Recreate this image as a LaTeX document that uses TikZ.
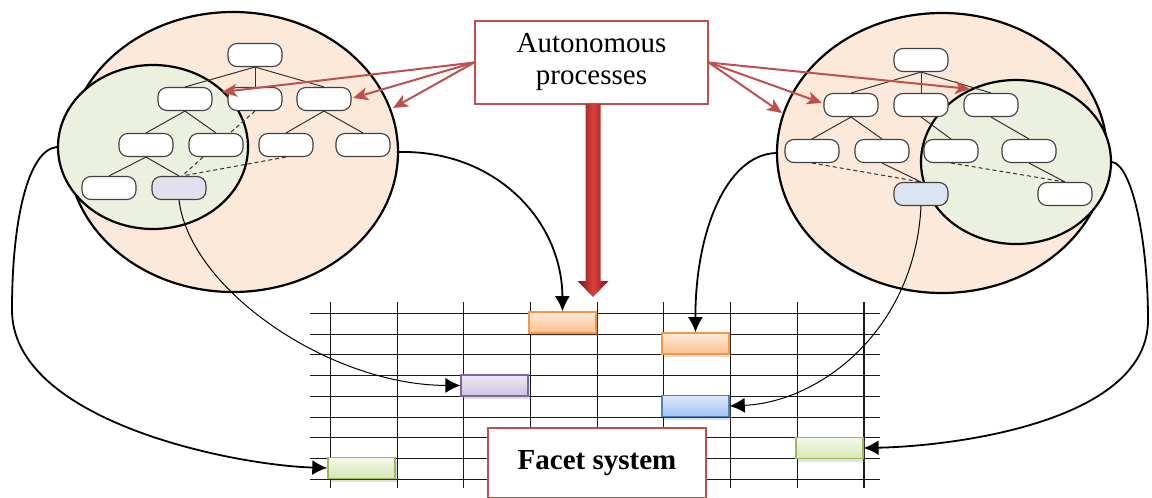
\documentclass[tikz,border=0pt]{standalone}
\usepackage{fontspec}
\setmainfont{Liberation Serif}
\usetikzlibrary{shapes.geometric,arrows.meta,shadows}
\definecolor{redline}{RGB}{192,80,77}
\definecolor{peach}{RGB}{253,233,217}
\definecolor{greenf}{RGB}{235,241,222}
\definecolor{lavf}{RGB}{228,223,236}
\definecolor{bluef}{RGB}{219,229,241}
\definecolor{orB}{RGB}{247,150,70}
\definecolor{orT}{RGB}{254,236,222}
\definecolor{orD}{RGB}{250,190,140}
\definecolor{puB}{RGB}{128,100,162}
\definecolor{puT}{RGB}{238,233,245}
\definecolor{puD}{RGB}{206,193,222}
\definecolor{blB}{RGB}{79,129,189}
\definecolor{blT}{RGB}{222,234,250}
\definecolor{blD}{RGB}{160,194,238}
\definecolor{grB}{RGB}{155,187,89}
\definecolor{grT}{RGB}{244,249,233}
\definecolor{grD}{RGB}{214,230,182}
\definecolor{arrD}{RGB}{130,20,20}
\definecolor{arrM}{RGB}{215,65,60}
\begin{document}
\begin{tikzpicture}[x=1pt,y=-1pt,
  tnode/.style={draw=black!75, fill=white, rounded corners=9pt, minimum width=54pt, minimum height=23pt, inner sep=0pt, line width=1.1pt},
  ell/.style={ellipse, draw=black, line width=2.2pt, inner sep=0pt},
  tedge/.style={draw=black!80, line width=1pt},
  dedge/.style={draw=black!80, line width=1pt, dash pattern=on 4pt off 3pt},
  redarr/.style={draw=redline, line width=2pt, -{Stealth[length=15pt,width=13pt,inset=4pt]}},
  conn/.style={line width=1.8pt, -{Latex[length=15pt,width=15pt]}},
  fineconn/.style={line width=1pt, -{Latex[length=15pt,width=15pt]}},
  gbox/.style={line width=1.6pt, minimum width=67pt, minimum height=21pt, inner sep=0pt,
               drop shadow={opacity=0.25, shadow xshift=2pt, shadow yshift=-3pt}},
  gline/.style={line width=1.1pt, draw=black!90}
]
\useasboundingbox (0,0) rectangle (1152,498);

% ---- left ellipses
\node[ell, fill=peach, minimum width=330pt, minimum height=280pt] (bigL) at (233,152) {};
\node[ell, fill=greenf, minimum width=190pt, minimum height=164pt] (grL) at (153,147) {};
% ---- right ellipses
\node[ell, fill=peach, minimum width=330pt, minimum height=280pt] (bigR) at (942,153) {};
\node[ell, fill=greenf, minimum width=190pt, minimum height=164pt] (grR) at (1016,162) {};

% ---- left tree
\node[tnode] (L0) at (255,55) {};
\node[tnode] (L1) at (185,99) {};
\node[tnode] (L2) at (255,99) {};
\node[tnode] (L3) at (324,99) {};
\node[tnode] (L4) at (146,145) {};
\node[tnode] (L5) at (216,145) {};
\node[tnode] (L6) at (286,145) {};
\node[tnode] (L7) at (363,145) {};
\node[tnode] (L8) at (109,188) {};
\node[tnode, fill=lavf] (L9) at (179,188) {};
\draw[tedge] (L0.south) -- (L1.north);
\draw[tedge] (L0.south) -- (L2.north);
\draw[tedge] (L0.south) -- (L3.north);
\draw[tedge] (L1.south) -- (L4.north);
\draw[tedge] (L1.south) -- (L5.north);
\draw[tedge] (L3.south) -- (L6.north);
\draw[tedge] (L3.south) -- (L7.north);
\draw[tedge] (L4.south) -- (L8.north);
\draw[tedge] (L4.south) -- (L9.north);
\draw[dedge] (L2.south) -- ([xshift=14pt]L5.north);
\draw[dedge] ([xshift=-13pt]L5.south) -- ([xshift=3pt]L9.north);
\draw[dedge] (L6.south) -- ([xshift=3pt]L9.north);

% ---- right tree
\node[tnode] (R0) at (921,60) {};
\node[tnode] (R1) at (851,105) {};
\node[tnode] (R2) at (921,105) {};
\node[tnode] (R3) at (991,105) {};
\node[tnode] (R4) at (812,151) {};
\node[tnode] (R5) at (882,151) {};
\node[tnode] (R6) at (951,151) {};
\node[tnode] (R7) at (1029,151) {};
\node[tnode, fill=bluef] (R8) at (921,194) {};
\node[tnode] (R9) at (1065,194) {};
\draw[tedge] (R0.south) -- (R1.north);
\draw[tedge] (R0.south) -- (R2.north);
\draw[tedge] (R0.south) -- (R3.north);
\draw[tedge] (R1.south) -- (R4.north);
\draw[tedge] (R1.south) -- (R5.north);
\draw[tedge] (R2.south) -- (R6.north);
\draw[tedge] (R3.south) -- (R7.north);
\draw[tedge] (R5.south) -- (R8.north);
\draw[tedge] (R7.south) -- (R9.north);
\draw[dedge] (R4.south) -- (R8.north);
\draw[dedge] (R6.south) -- (R9.north);

% ---- grid
\foreach \i in {0,...,8} {
  \draw[gline] (310,{313.3+20.77*\i}) -- (880,{313.3+20.77*\i});
}
\foreach \j in {0,...,8} {
  \draw[gline] ({330.4+66.7*\j},302) -- ({330.4+66.7*\j},488);
}

% ---- grid boxes
\node[gbox, draw=orB, top color=orT, bottom color=orD] (bO1) at (562.5,322.5) {};
\node[gbox, draw=orB, top color=orT, bottom color=orD] (bO2) at (695.5,343.5) {};
\node[gbox, draw=puB, top color=puT, bottom color=puD] (bP) at (494.7,385.5) {};
\node[gbox, draw=blB, top color=blT, bottom color=blD] (bB) at (695.5,406) {};
\node[gbox, draw=grB, top color=grT, bottom color=grD] (bG1) at (361.6,468) {};
\node[gbox, draw=grB, top color=grT, bottom color=grD] (bG2) at (829.3,448) {};

% ---- facet system box
\node[draw=redline, line width=1.6pt, fill=white, minimum width=218pt, minimum height=70pt, inner sep=0pt,
      font=\fontsize{29}{32}\selectfont\bfseries] (facet) at (597,463) {Facet system};

% ---- autonomous processes box
\node[draw=redline, line width=1.6pt, fill=white, minimum width=233pt, minimum height=83pt, inner sep=0pt,
      align=center, font=\fontsize{29}{32}\selectfont] (auto) at (591.5,62.5) {Autonomous\\processes};

% ---- big red down arrow
\coordinate (dtip) at (593,297);
\shade[left color=arrD, right color=arrD, middle color=arrM]
  (585.5,104) -- (600.5,104) -- (600.5,281) -- (608.5,281) -- (dtip) -- (577.5,281) -- (585.5,281) -- cycle;

% ---- red arrows
\coordinate (tL1) at (222,92);
\coordinate (tL2) at (353,98);
\coordinate (tL3) at (393,108);
\coordinate (tR1) at (970,89);
\coordinate (tR2) at (822,103);
\coordinate (tR3) at (782,113);
\draw[redarr] (auto.west) -- (tL1);
\draw[redarr] (auto.west) -- (tL2);
\draw[redarr] (auto.west) -- (tL3);
\draw[redarr] (auto.east) -- (tR1);
\draw[redarr] (auto.east) -- (tR2);
\draw[redarr] (auto.east) -- (tR3);

% ---- black connectors
\draw[conn] (bigL.east) .. controls (495,150) and (562,220) .. (bO1.north);
\draw[conn] (bigR.west) .. controls (725,155) and (695,235) .. (bO2.north);
\coordinate (cL) at (12,310);
\draw[conn] (grL.west) .. controls (28,150) and (12,220) .. (cL) .. controls (12,420) and (230,465) .. (bG1.west);
\coordinate (cR) at (1148,320);
\draw[conn] (grR.east) .. controls (1132,165) and (1148,240) .. (cR) .. controls (1148,420) and (960,446) .. (bG2.east);
\draw[fineconn] (L9.south) .. controls (190,290) and (330,385) .. (bP.west);
\draw[fineconn] (R8.south) .. controls (915,330) and (820,402) .. (bB.east);
\end{tikzpicture}
\end{document}
